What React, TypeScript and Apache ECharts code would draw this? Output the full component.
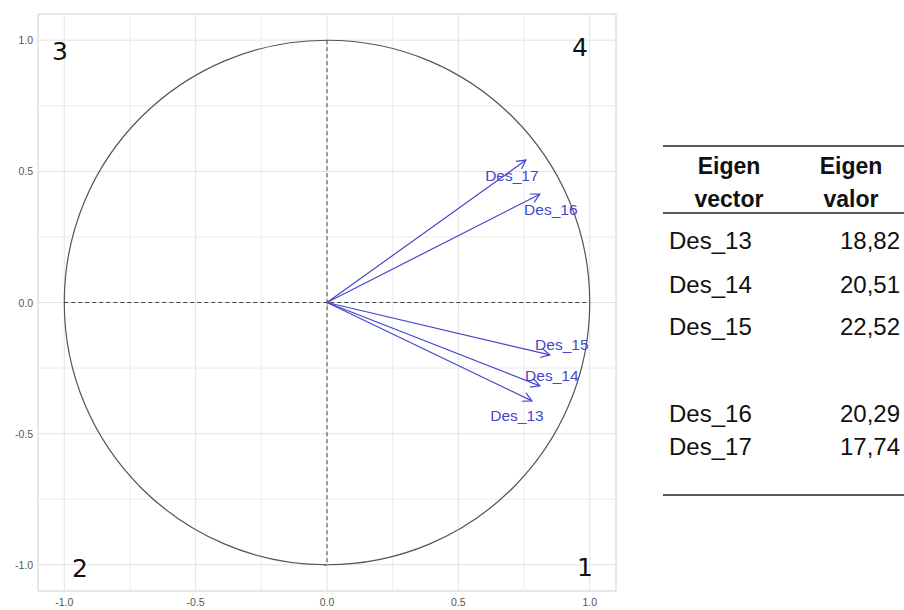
import React, { useEffect, useRef } from "react";
import * as echarts from "echarts";

// ---- data ----
const tickValues = [-1.0, -0.5, 0.0, 0.5, 1.0];
const gridMajor = [-1.0, -0.5, 0.0, 0.5, 1.0];
const gridMinor = [-0.75, -0.25, 0.25, 0.75];
const variables = ["Des_13", "Des_14", "Des_15", "Des_16", "Des_17"];
const dim1 = [0.78, 0.81, 0.848, 0.81, 0.757];
const dim2 = [-0.375, -0.318, -0.2, 0.413, 0.543];
const quadrantLabels = ["3", "4", "2", "1"];
const headerCol1 = ["Eigen", "vector"];
const headerCol2 = ["Eigen", "valor"];
const eigenNames = ["Des_13", "Des_14", "Des_15", "Des_16", "Des_17"];
const eigenValues = ["18,82", "20,51", "22,52", "20,29", "17,74"];

// ---- layout (pixels) ----
const labelOffsets = [
  [-15, 15],
  [12, -10],
  [12, -10],
  [11, 15],
  [-14, 15],
];
const quadrantPos = [
  [60, 51],
  [580, 47],
  [80, 568],
  [585, 567],
];
const rowY = [240, 284, 326, 413, 446];
const headerY = [166, 199];

const ARROW = "#4646CC";

export default function App() {
  const ref = useRef<HTMLDivElement>(null);
  useEffect(() => {
    if (!ref.current) return;
    const chart = echarts.init(ref.current, null, { renderer: "svg" });

    const axisCommon = {
      type: "value",
      min: -1.1,
      max: 1.1,
      axisLine: { show: false },
      splitLine: { show: false },
      axisTick: {
        show: true,
        length: 3,
        customValues: tickValues,
        lineStyle: { color: "#666", width: 1 },
      },
      axisLabel: {
        customValues: tickValues,
        formatter: (v: number) => v.toFixed(1),
        color: "#555",
        fontSize: 10.5,
        fontFamily: "Liberation Sans, Arial, sans-serif",
        margin: 5,
      },
    };

    const tableEls: any[] = [];
    const ruleX1 = 663;
    const ruleX2 = 904;
    [146, 213, 495].forEach((y) =>
      tableEls.push({
        type: "line",
        shape: { x1: ruleX1, y1: y, x2: ruleX2, y2: y },
        style: { stroke: "#222", lineWidth: 1.5 },
      })
    );
    const txt = (t: string, x: number, y: number, align: string, size: number, bold: boolean) => ({
      type: "text",
      x,
      y,
      style: {
        text: t,
        fill: "#111",
        fontSize: size,
        fontWeight: bold ? "bold" : "normal",
        fontFamily: "Liberation Sans, Arial, sans-serif",
        align,
        textAlign: align,
        verticalAlign: "middle",
        textVerticalAlign: "middle",
      },
    });
    headerCol1.forEach((t, i) => tableEls.push(txt(t, 729, headerY[i], "center", 23, true)));
    headerCol2.forEach((t, i) => tableEls.push(txt(t, 851, headerY[i], "center", 23, true)));
    eigenNames.forEach((t, i) => tableEls.push(txt(t, 669, rowY[i], "left", 24, false)));
    eigenValues.forEach((t, i) => tableEls.push(txt(t, 900, rowY[i], "right", 24, false)));
    quadrantLabels.forEach((t, i) =>
      tableEls.push({
        type: "text",
        x: quadrantPos[i][0],
        y: quadrantPos[i][1],
        z: 10,
        style: {
          text: t,
          fill: "#111",
          fontSize: 25,
          fontFamily: "DejaVu Sans, sans-serif",
          align: "center",
          textAlign: "center",
          verticalAlign: "middle",
          textVerticalAlign: "middle",
        },
      })
    );

    const gridData = gridMajor.map((v) => [v, v, 1]).concat(gridMinor.map((v) => [v, v, 0]));

    chart.setOption({
      animation: false,
      backgroundColor: "#fff",
      grid: {
        left: 38,
        top: 14,
        width: 578,
        height: 577,
        show: true,
        borderColor: "#cfcfcf",
        borderWidth: 1,
        backgroundColor: "#fff",
      },
      xAxis: axisCommon,
      yAxis: axisCommon,
      graphic: { elements: tableEls },
      series: [
        {
          type: "custom",
          z: 1,
          silent: true,
          data: gridData,
          renderItem: (params: any, api: any) => {
            const v = api.value(0);
            const major = api.value(2) === 1;
            const a = api.coord([v, -1.1]);
            const b = api.coord([v, 1.1]);
            const c = api.coord([-1.1, v]);
            const d = api.coord([1.1, v]);
            const st = { stroke: major ? "#e3e3e3" : "#ececec", lineWidth: 1 };
            return {
              type: "group",
              children: [
                { type: "line", shape: { x1: a[0], y1: a[1], x2: b[0], y2: b[1] }, style: st },
                { type: "line", shape: { x1: c[0], y1: c[1], x2: d[0], y2: d[1] }, style: st },
              ],
            };
          },
        },
        {
          type: "custom",
          z: 2,
          silent: true,
          data: [[0, 0]],
          renderItem: (params: any, api: any) => {
            const c = api.coord([0, 0]);
            const s = api.size([1, 1]);
            const l = api.coord([-1, 0]);
            const r = api.coord([1, 0]);
            const t = api.coord([0, 1]);
            const b = api.coord([0, -1]);
            const dash = { stroke: "#444", lineWidth: 1, lineDash: [4, 3], fill: "none" };
            return {
              type: "group",
              children: [
                {
                  type: "ellipse",
                  shape: { cx: c[0], cy: c[1], rx: s[0], ry: s[1] },
                  style: { stroke: "#555", lineWidth: 1.2, fill: "none" },
                },
                { type: "line", shape: { x1: l[0], y1: l[1], x2: r[0], y2: r[1] }, style: dash },
                { type: "line", shape: { x1: t[0], y1: t[1], x2: b[0], y2: b[1] }, style: dash },
              ],
            };
          },
        },
        {
          type: "custom",
          z: 3,
          silent: true,
          data: variables.map((n, i) => [dim1[i], dim2[i], i]),
          renderItem: (params: any, api: any) => {
            const i = api.value(2);
            const o = api.coord([0, 0]);
            const p = api.coord([api.value(0), api.value(1)]);
            const ang = Math.atan2(p[1] - o[1], p[0] - o[0]);
            const hl = 10;
            const ha = (28 * Math.PI) / 180;
            const h1 = [p[0] - hl * Math.cos(ang - ha), p[1] - hl * Math.sin(ang - ha)];
            const h2 = [p[0] - hl * Math.cos(ang + ha), p[1] - hl * Math.sin(ang + ha)];
            const st = { stroke: ARROW, lineWidth: 1.2, fill: "none" };
            const off = labelOffsets[i];
            return {
              type: "group",
              children: [
                { type: "line", shape: { x1: o[0], y1: o[1], x2: p[0], y2: p[1] }, style: st },
                { type: "polyline", shape: { points: [h1, p, h2] }, style: st },
                {
                  type: "text",
                  x: p[0] + off[0],
                  y: p[1] + off[1],
                  style: {
                    text: variables[i],
                    fill: ARROW,
                    fontSize: 15.5,
                    fontFamily: "Liberation Sans, Arial, sans-serif",
                    align: "center",
                    verticalAlign: "middle",
                  },
                },
              ],
            };
          },
        },
      ],
    });
    return () => chart.dispose();
  }, []);
  return (
    <div
      ref={ref}
      style={{ position: "fixed", left: 0, top: 0, width: 904, height: 610, background: "#fff" }}
    />
  );
}
